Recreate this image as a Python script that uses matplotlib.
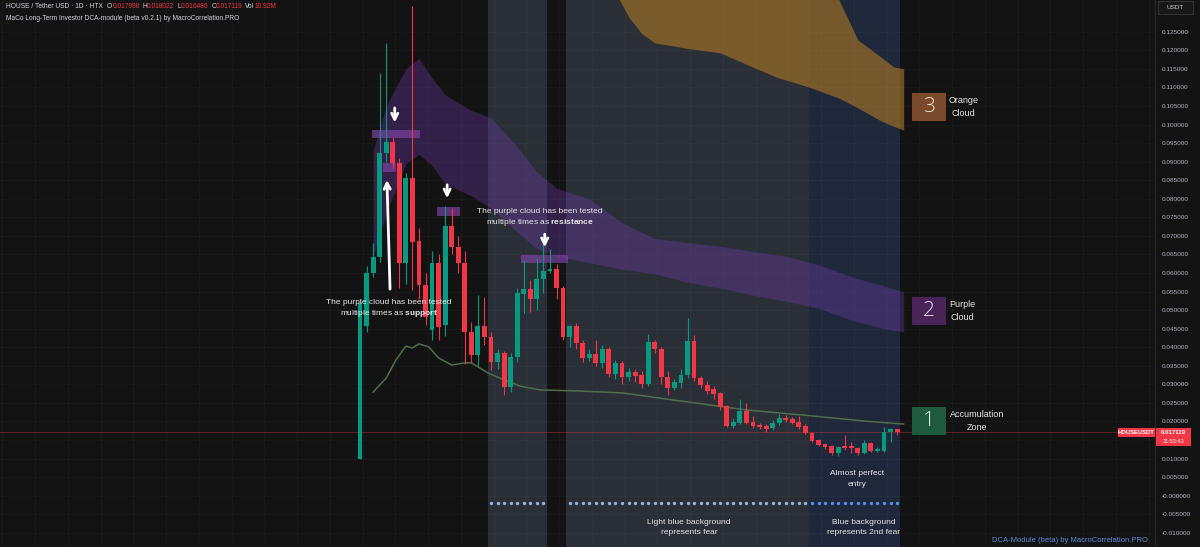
import numpy as np
import matplotlib.pyplot as plt
from matplotlib.patches import Rectangle
from matplotlib.ticker import FuncFormatter

plt.rcParams['font.family'] = ['Liberation Sans', 'DejaVu Sans']
plt.rcParams['mathtext.fontset'] = 'custom'
plt.rcParams['mathtext.rm'] = 'Liberation Sans'
plt.rcParams['mathtext.bf'] = 'Liberation Sans:bold'

# HOUSE/USDT daily candles (HTX)
opens = [0.0100, 0.0457, 0.0600, 0.0643, 0.0923, 0.0953, 0.0896, 0.0627, 0.0856, 0.0686,
         0.0568, 0.0446, 0.0627, 0.0459, 0.0727, 0.0670, 0.0627, 0.0441, 0.0379, 0.0457,
         0.0428, 0.0360, 0.0384, 0.0293, 0.0374, 0.0543, 0.0557, 0.0530, 0.0584, 0.0605,
         0.0610, 0.0559, 0.0428, 0.0457, 0.0411, 0.0371, 0.0382, 0.0357, 0.0395, 0.0328,
         0.0357, 0.0320, 0.0333, 0.0325, 0.0301, 0.0414, 0.0395, 0.0320, 0.0290, 0.0303,
         0.0325, 0.0417, 0.0317, 0.0298, 0.0287, 0.0276, 0.0241, 0.0188, 0.0196, 0.0228,
         0.0198, 0.0190, 0.0188, 0.0182, 0.0196, 0.0209, 0.0206, 0.0198, 0.0188, 0.0169,
         0.0150, 0.0139, 0.0134, 0.0115, 0.0134, 0.0134, 0.0128, 0.0115, 0.0142, 0.0121,
         0.0121, 0.0172, 0.017998]
highs = [0.0530, 0.0620, 0.0680, 0.1139, 0.1219, 0.0965, 0.0910, 0.0870, 0.1320, 0.0720,
         0.0600, 0.0660, 0.0650, 0.0780, 0.0775, 0.0700, 0.0660, 0.0467, 0.0540, 0.0535,
         0.0440, 0.0395, 0.0390, 0.0384, 0.0560, 0.0634, 0.0580, 0.0640, 0.0688, 0.0665,
         0.0625, 0.0565, 0.0460, 0.0465, 0.0420, 0.0395, 0.0420, 0.0405, 0.0400, 0.0365,
         0.0362, 0.0345, 0.0340, 0.0335, 0.0435, 0.0420, 0.0400, 0.0335, 0.0315, 0.0340,
         0.0478, 0.0432, 0.0322, 0.0310, 0.0296, 0.0280, 0.0245, 0.0210, 0.0260, 0.0250,
         0.0215, 0.0196, 0.0193, 0.0203, 0.0220, 0.0218, 0.0212, 0.0215, 0.0192, 0.0172,
         0.0154, 0.0142, 0.0137, 0.0134, 0.0163, 0.0145, 0.0131, 0.0150, 0.0145, 0.0130,
         0.0185, 0.0183, 0.018022]
lows = [0.0098, 0.0440, 0.0590, 0.0630, 0.0900, 0.0880, 0.0560, 0.0570, 0.0554, 0.0530,
        0.0460, 0.0420, 0.0420, 0.0430, 0.0650, 0.0600, 0.0355, 0.0357, 0.0350, 0.0405,
        0.0338, 0.0340, 0.0270, 0.0280, 0.0360, 0.0493, 0.0496, 0.0500, 0.0545, 0.0600,
        0.0530, 0.0420, 0.0400, 0.0395, 0.0360, 0.0362, 0.0350, 0.0345, 0.0320, 0.0315,
        0.0300, 0.0310, 0.0305, 0.0290, 0.0295, 0.0385, 0.0300, 0.0270, 0.0285, 0.0290,
        0.0318, 0.0310, 0.0290, 0.0275, 0.0260, 0.0230, 0.0185, 0.0183, 0.0192, 0.0192,
        0.0183, 0.0180, 0.0172, 0.0178, 0.0190, 0.0198, 0.0192, 0.0180, 0.0165, 0.0144,
        0.0133, 0.0127, 0.0110, 0.0108, 0.0124, 0.0115, 0.0110, 0.0112, 0.0118, 0.0118,
        0.0118, 0.0144, 0.016486]
closes = [0.0519, 0.0600, 0.0643, 0.0923, 0.0953, 0.0896, 0.0627, 0.0856, 0.0683, 0.0568,
          0.0481, 0.0627, 0.0454, 0.0727, 0.0670, 0.0627, 0.0441, 0.0379, 0.0457, 0.0428,
          0.0360, 0.0384, 0.0293, 0.0374, 0.0545, 0.0557, 0.0530, 0.0584, 0.0605, 0.0610,
          0.0559, 0.0428, 0.0457, 0.0411, 0.0371, 0.0382, 0.0357, 0.0395, 0.0328, 0.0357,
          0.0320, 0.0333, 0.0322, 0.0301, 0.0414, 0.0395, 0.0320, 0.0290, 0.0305, 0.0325,
          0.0417, 0.0317, 0.0298, 0.0282, 0.0274, 0.0239, 0.0188, 0.0198, 0.0228, 0.0196,
          0.0188, 0.0185, 0.0180, 0.0196, 0.0209, 0.0204, 0.0196, 0.0185, 0.0169, 0.0147,
          0.0137, 0.0131, 0.0115, 0.0131, 0.0128, 0.0128, 0.0115, 0.0142, 0.0121, 0.0126,
          0.0172, 0.0180, 0.017119]
last_price = 0.017119

# DCA module clouds (bar index -> price)
purple_x = [2, 4, 7, 9, 11, 13, 17, 20, 24, 27, 30, 35, 40, 45, 50, 55, 60, 65, 70, 75, 80, 83]
purple_top = [0.0930, 0.1050, 0.1150, 0.1178, 0.1125, 0.1080, 0.1038, 0.1018, 0.0940, 0.0873, 0.0828,
              0.0800, 0.0735, 0.0693, 0.0682, 0.0672, 0.0658, 0.0645, 0.0622, 0.0590, 0.0565, 0.0549]
purple_bot = [0.0645, 0.0760, 0.0895, 0.0920, 0.0890, 0.0840, 0.0808, 0.0775, 0.0710, 0.0665, 0.0645,
              0.0628, 0.0610, 0.0598, 0.0575, 0.0559, 0.0540, 0.0524, 0.0505, 0.0473, 0.0450, 0.0441]
orange_x = [39.5, 41, 43, 45, 50, 55, 58.5, 63.5, 68.5, 73, 76, 79.5, 81.5, 83]
orange_top = [0.1450, 0.1450, 0.1450, 0.1450, 0.1450, 0.1450, 0.1450, 0.1450, 0.1450,
              0.1340, 0.1228, 0.1182, 0.1155, 0.1150]
orange_bot = [0.1340, 0.1290, 0.1245, 0.1220, 0.1205, 0.1193, 0.1166, 0.1128, 0.1101,
              0.1072, 0.1045, 0.1010, 0.0995, 0.0985]
ma_x = [2, 4, 5.5, 7, 8, 9, 10.5, 12, 14, 16, 17, 19.5, 22, 24.5, 27.5, 33.5, 40, 49, 59, 69, 77, 83]
ma_y = [0.0279, 0.0317, 0.0366, 0.0403, 0.0398, 0.0409, 0.0401, 0.0371, 0.0352, 0.0358, 0.0358,
        0.0331, 0.0312, 0.0295, 0.0285, 0.0282, 0.0277, 0.0255, 0.0231, 0.0215, 0.0201, 0.0193]

# fear backgrounds, bar index ranges
fear_zones = [(19.5, 28.5), (31.5, 68.5)]
fear2_zones = [(68.5, 82.5)]
fear_dot_level = -0.002

# tested zones (x0, x1, y0, y1)
test_boxes = [(1.8, 9.2, 0.0963, 0.0985), (3.5, 5.5, 0.0871, 0.0896),
              (11.8, 15.3, 0.0753, 0.0777), (24.6, 31.8, 0.0627, 0.0648)]

BG = '#131313'
TXT = '#d1d4dc'
RED = '#f23645'
GREEN = '#089981'

fig = plt.figure(figsize=(12, 5.47), dpi=100, facecolor=BG)
ax = fig.add_axes([0, 0, 1155 / 1200, 1])
ax.set_facecolor(BG)
ax.set_xlim(-54.96, 121.37)
ax.set_ylim(-0.01382, 0.13354)

# backgrounds
for a, b in fear_zones:
    ax.axvspan(a, b, color='#2a2e37', lw=0, zorder=0)
for a, b in fear2_zones:
    ax.axvspan(a, b, color='#1f283b', lw=0, zorder=0)


def price_label(v, pos):
    # the 0.015 level sits under the last-price tag
    if abs(v - 0.015) < 1e-9:
        return ''
    if abs(v) < 1e-9:
        return '-0.000000'
    return f'{v:.6f}'


# grid
ax.set_yticks(np.arange(-0.010, 0.1251, 0.005))
ax.set_xticks(np.arange(-54.6, 121, 5))
ax.grid(color='white', alpha=0.028, lw=0.8)
ax.set_axisbelow(True)
ax.yaxis.tick_right()
ax.yaxis.set_major_formatter(FuncFormatter(price_label))
ax.tick_params(axis='y', length=0, pad=5, labelsize=4.6, labelcolor='#b2b5be')
ax.tick_params(axis='x', length=0, labelbottom=False)
for s in ['top', 'left', 'bottom']:
    ax.spines[s].set_visible(False)
ax.spines['right'].set_color('#2a2a2a')

# clouds
ax.fill_between(orange_x, orange_bot, orange_top, color='#b07a25', alpha=0.6, lw=0, zorder=1)
ax.fill_between(purple_x, purple_bot, purple_top, color='#7b3fc0', alpha=0.31, lw=0, zorder=1)

# support / resistance test zones
for x0, x1, y0, y1 in test_boxes:
    ax.add_patch(Rectangle((x0, y0), x1 - x0, y1 - y0, color='#7b42a0', alpha=0.7, lw=0, zorder=3))

# moving average
ax.plot(ma_x, ma_y, color='#4f6e4f', lw=1.1, zorder=3.5)

# last price line
ax.axhline(last_price, color=RED, alpha=0.35, lw=0.8, zorder=2)

# candles
idx = np.arange(len(closes))
o = np.array(opens)
c = np.array(closes)
cols = [GREEN if cc >= oo else RED for oo, cc in zip(o, c)]
ax.vlines(idx, lows, highs, colors=cols, lw=0.8, zorder=4)
body = np.maximum(np.abs(c - o), 0.0003)
ax.bar(idx, body, bottom=np.minimum(o, c), width=0.74, color=cols, lw=0, zorder=4.5)

# fear dots
dots1 = [i for a, b in fear_zones for i in idx if a < i < b]
dots2 = [i for a, b in fear2_zones for i in idx if a < i < b]
ax.scatter(dots1, [fear_dot_level] * len(dots1), s=6, color='#9ab0d6', lw=0, zorder=5)
ax.scatter(dots2, [fear_dot_level] * len(dots2), s=6, color='#5a8ee6', lw=0, zorder=5)

# arrows
arrow = dict(arrowstyle='->', color='white', lw=2, mutation_scale=11)
ax.annotate('', xy=(5.3, 0.0998), xytext=(5.3, 0.1052), arrowprops=arrow, zorder=6)
ax.annotate('', xy=(13.3, 0.0794), xytext=(13.3, 0.0845), arrowprops=arrow, zorder=6)
ax.annotate('', xy=(28.2, 0.0662), xytext=(28.2, 0.0712), arrowprops=arrow, zorder=6)
ax.annotate('', xy=(4.1, 0.0858), xytext=(4.6, 0.0549), arrowprops=arrow, zorder=6)

# notes
note = dict(color='#e6e6e6', fontsize=6, ha='center', va='center', zorder=7)
ax.text(4.4, 0.0521, 'The purple cloud has been tested', **note)
ax.text(4.4, 0.0492, r'multiple times as $\bf{support}$', **note)
ax.text(27.5, 0.0766, 'The purple cloud has been tested', **note)
ax.text(27.5, 0.0737, r'multiple times as $\bf{resistance}$', **note)
ax.text(75.9, 0.0061, 'Almost perfect', **note)
ax.text(75.9, 0.0029, 'entry', **note)
ax.text(50.2, -0.0071, 'Light blue background', **note)
ax.text(50.2, -0.0100, 'represents fear', **note)
ax.text(76.9, -0.0071, 'Blue background', **note)
ax.text(76.9, -0.0100, 'represents 2nd fear', **note)

# numbered legend boxes
legend_boxes = [('3', '#7b4a2c', '#f7e6d8', 0.1010, 0.1085, 'Orange', 'Cloud', 92.1),
                ('2', '#4a2358', '#eedcf7', 0.0459, 0.0535, 'Purple', 'Cloud', 92.0),
                ('1', '#1d5b3c', '#d8f4e3', 0.0163, 0.0238, 'Accumulation', 'Zone', 94.2)]
for num, fc, nc, y0, y1, l1, l2, tx in legend_boxes:
    ax.add_patch(Rectangle((84.3, y0), 5.1, y1 - y0, color=fc, lw=0, zorder=6))
    ax.text(86.85, (y0 + y1) / 2, num, color=nc, fontsize=15, ha='center', va='center',
            family=['Open Sans', 'DejaVu Sans'], fontweight='light', zorder=7)
    ym = (y0 + y1) / 2
    ax.text(tx, ym + 0.0017, l1, color='#e6e6e6', fontsize=6.5, ha='center', va='center', zorder=7)
    ax.text(tx, ym - 0.0018, l2, color='#e6e6e6', fontsize=6.5, ha='center', va='center', zorder=7)


def px(x, y):
    return x / 1200, 1 - y / 547


# header lines
t = fig.text(*px(6, 7), 'HOUSE / Tether USD · 1D · HTX', color=TXT, fontsize=4.8, va='center')
parts = [('O', TXT, 3), ('0.017998', RED, 0), ('H', TXT, 2), ('0.018022', RED, 0),
         ('L', TXT, 2), ('0.016486', RED, 0), ('C', TXT, 2), ('0.017119', RED, 0),
         ('Vol', TXT, 2), ('10.92M', RED, 0)]
for txt, col, gap in parts:
    t = ax.annotate(txt, xy=(1, 0), xycoords=t, xytext=(gap, 0), textcoords='offset points',
                    va='bottom', ha='left', color=col, fontsize=4.8, annotation_clip=False)
fig.text(*px(6, 18), 'MaCo Long-Term Investor DCA-module (beta v0.2.1) by MacroCorrelation.PRO',
         color=TXT, fontsize=4.8, va='center')

# footer credit
fig.text(*px(1148, 540), 'DCA-Module (beta) by MacroCorrelation.PRO', color='#5b8dd6',
         fontsize=5.5, ha='right', va='center')

# price scale extras
fig.patches.append(Rectangle(px(1158, 14), 35 / 1200, 13 / 547, transform=fig.transFigure,
                             facecolor='#181818', edgecolor='#3a3a3a', lw=0.6, zorder=5))
fig.text(*px(1175.5, 7.5), 'USDT', color=TXT, fontsize=4.6, ha='center', va='center', zorder=6)
fig.patches.append(Rectangle(px(1156, 446), 35 / 1200, 18 / 547, transform=fig.transFigure,
                             color=RED, lw=0, zorder=5))
fig.text(*px(1173.5, 432.5), '0.017119', color='white', fontsize=4.4, fontweight='bold',
         ha='center', va='center', zorder=6)
fig.text(*px(1173.5, 441.5), '21:53:43', color='white', fontsize=4.0, ha='center', va='center', zorder=6)
fig.patches.append(Rectangle(px(1118, 437), 37 / 1200, 9 / 547, transform=fig.transFigure,
                             color=RED, lw=0, zorder=5))
fig.text(*px(1136.5, 432.7), 'HOUSEUSDT', color='white', fontsize=4.2, fontweight='bold',
         ha='center', va='center', zorder=6)

fig.savefig('out.png', dpi=100, facecolor=BG)
